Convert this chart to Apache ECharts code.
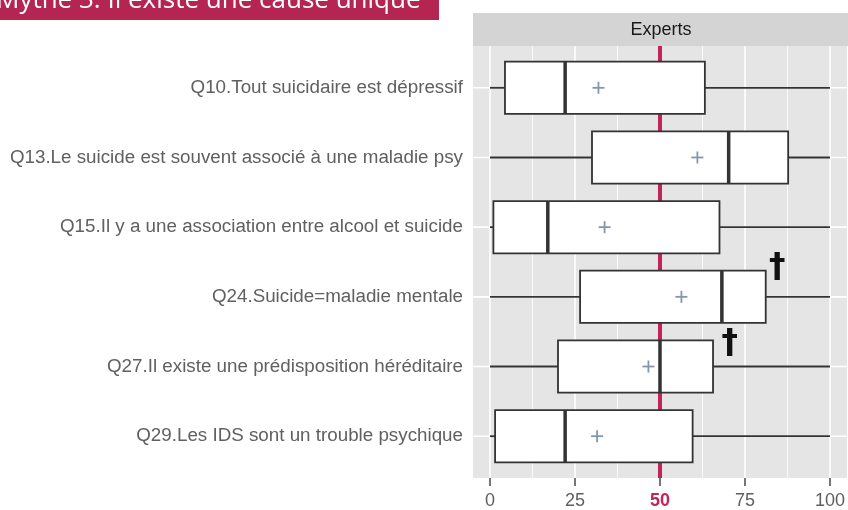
<!DOCTYPE html>
<html lang="fr">
<head>
    <meta charset="UTF-8">
    <title>Mythe 3</title>
    <script src="https://cdn.jsdelivr.net/npm/echarts@6/dist/echarts.min.js"></script>
    <style>
        body { margin: 0; background: #fff; }
    </style>
</head>
<body>
<div id="chart" style="width: 848px; height:510px;"></div>
<script>
    var categories = [
        'Q10.Tout suicidaire est dépressif',
        'Q13.Le suicide est souvent associé à une maladie psy',
        'Q15.Il y a une association entre alcool et suicide',
        'Q24.Suicide=maladie mentale',
        'Q27.Il existe une prédisposition héréditaire',
        'Q29.Les IDS sont un trouble psychique'
    ];
    var whiskerLow  = [0, 0, 0, 0, 0, 0];
    var q1          = [4.4, 30, 1, 26.5, 20, 1.5];
    var median      = [22.1, 70.2, 17, 68.2, 50, 22.1];
    var q3          = [63.2, 87.7, 67.5, 81.1, 65.6, 59.6];
    var whiskerHigh = [100, 100, 100, 100, 100, 100];
    var means       = [31.9, 61, 33.7, 56.3, 46.6, 31.5];

    // daggers: [x value, y position in category units]
    var daggerX = [84.5, 70.5];
    var daggerY = [3.59, 4.69];

    var xTicks = [0, 25, 50, 75, 100];
    var xMinor = [12.5, 37.5, 62.5, 87.5];
    var refValue = 50;

    var chart = echarts.init(document.getElementById('chart'));

    var boxData = categories.map(function (c, i) {
        return [i + 1, whiskerLow[i], q1[i], median[i], q3[i], whiskerHigh[i]];
    });
    var meanData = means.map(function (m, i) { return [m, i + 1]; });
    var daggerData = daggerX.map(function (x, i) { return [x, daggerY[i]]; });

    function vLine(width) {
        return function (params, api) {
            var a = api.coord([api.value(0), 0.4]);
            var b = api.coord([api.value(0), 6.6]);
            return {
                type: 'line',
                shape: { x1: a[0], y1: a[1], x2: b[0], y2: b[1] },
                style: { stroke: '#ffffff', lineWidth: width }
            };
        };
    }

    var option = {
        animation: false,
        grid: {
            left: 473, top: 46, width: 376, height: 432,
            show: true, backgroundColor: '#e5e5e5', borderWidth: 0
        },
        graphic: [
            { type: 'rect', shape: { x: 0, y: 0, width: 439, height: 20 }, style: { fill: '#b42651' } },
            { type: 'text', x: -4, y: 1, style: { text: 'Mythe 3. Il existe une cause unique', fill: '#ffffff',
                font: '26px "Open Sans"', verticalAlign: 'middle' } },
            { type: 'rect', shape: { x: 473, y: 13, width: 376, height: 33 }, style: { fill: '#d4d4d4' } },
            { type: 'text', x: 661, y: 30, style: { text: 'Experts', fill: '#1a1a1a',
                font: '18px "Liberation Sans"', align: 'center', verticalAlign: 'middle' } }
        ],
        xAxis: {
            type: 'value', min: -5, max: 105,
            axisLine: { show: false },
            splitLine: { show: false },
            axisTick: { show: true, customValues: xTicks, length: 8, lineStyle: { color: '#555', width: 1.6 } },
            axisLabel: {
                customValues: xTicks, fontSize: 18, color: '#606060', margin: 14,
                fontFamily: 'Liberation Sans',
                formatter: function (v) { return v === refValue ? '{hl|' + v + '}' : String(v); },
                rich: { hl: { color: '#c0245a', fontWeight: 'bold', fontSize: 18, fontFamily: 'Liberation Sans' } }
            }
        },
        yAxis: {
            type: 'value', inverse: true, min: 0.4, max: 6.6,
            axisLine: { show: false },
            axisTick: { show: false },
            splitLine: { show: false },
            axisLabel: {
                customValues: [1, 2, 3, 4, 5, 6], fontSize: 18.8, color: '#606060', margin: 10,
                fontFamily: 'Liberation Sans', padding: [4, 0, 0, 0],
                formatter: function (v) { return categories[v - 1]; }
            }
        },
        series: [
            { type: 'custom', data: xMinor.map(function (v) { return [v]; }), renderItem: vLine(0.8), silent: true, z: 1 },
            { type: 'custom', data: xTicks.map(function (v) { return [v]; }), renderItem: vLine(1.6), silent: true, z: 1 },
            {
                type: 'custom', silent: true, z: 1,
                data: categories.map(function (c, i) { return [i + 1]; }),
                renderItem: function (params, api) {
                    var a = api.coord([-5, api.value(0)]);
                    var b = api.coord([105, api.value(0)]);
                    return { type: 'line', shape: { x1: a[0], y1: a[1], x2: b[0], y2: b[1] },
                        style: { stroke: '#ffffff', lineWidth: 1.6 } };
                }
            },
            {
                type: 'custom', silent: true, z: 2,
                data: [[refValue]],
                renderItem: function (params, api) {
                    var a = api.coord([api.value(0), 0.4]);
                    var b = api.coord([api.value(0), 6.6]);
                    return { type: 'line', shape: { x1: a[0], y1: a[1], x2: b[0], y2: b[1] },
                        style: { stroke: '#c0245a', lineWidth: 4 } };
                }
            },
            {
                type: 'custom', silent: true, z: 3,
                data: boxData,
                renderItem: function (params, api) {
                    var y = api.value(0);
                    var lo = api.coord([api.value(1), y]);
                    var b1 = api.coord([api.value(2), y - 0.375]);
                    var md = api.coord([api.value(3), y]);
                    var b3 = api.coord([api.value(4), y + 0.375]);
                    var hi = api.coord([api.value(5), y]);
                    var stroke = '#333333';
                    return {
                        type: 'group',
                        children: [
                            { type: 'line', shape: { x1: lo[0], y1: lo[1], x2: b1[0], y2: lo[1] }, style: { stroke: stroke, lineWidth: 1.8 } },
                            { type: 'line', shape: { x1: b3[0], y1: hi[1], x2: hi[0], y2: hi[1] }, style: { stroke: stroke, lineWidth: 1.8 } },
                            { type: 'rect', shape: { x: b1[0], y: b1[1], width: b3[0] - b1[0], height: b3[1] - b1[1] },
                                style: { fill: '#ffffff', stroke: stroke, lineWidth: 1.8 } },
                            { type: 'line', shape: { x1: md[0], y1: b1[1], x2: md[0], y2: b3[1] }, style: { stroke: stroke, lineWidth: 3.5 } }
                        ]
                    };
                }
            },
            {
                type: 'custom', silent: true, z: 4,
                data: meanData,
                renderItem: function (params, api) {
                    var p = api.coord([api.value(0), api.value(1)]);
                    var s = 6, st = { stroke: '#8595ab', lineWidth: 1.8 };
                    return {
                        type: 'group',
                        children: [
                            { type: 'line', shape: { x1: p[0] - s, y1: p[1], x2: p[0] + s, y2: p[1] }, style: st },
                            { type: 'line', shape: { x1: p[0], y1: p[1] - s, x2: p[0], y2: p[1] + s }, style: st }
                        ]
                    };
                }
            },
            {
                type: 'custom', silent: true, z: 5,
                data: daggerData,
                renderItem: function (params, api) {
                    var p = api.coord([api.value(0), api.value(1)]);
                    return {
                        type: 'text', x: p[0], y: p[1],
                        style: { text: '†', fill: '#111111', font: 'bold 33px "DejaVu Sans"',
                            align: 'center', verticalAlign: 'middle' }
                    };
                }
            }
        ]
    };
    chart.setOption(option);
</script>
</body>
</html>
